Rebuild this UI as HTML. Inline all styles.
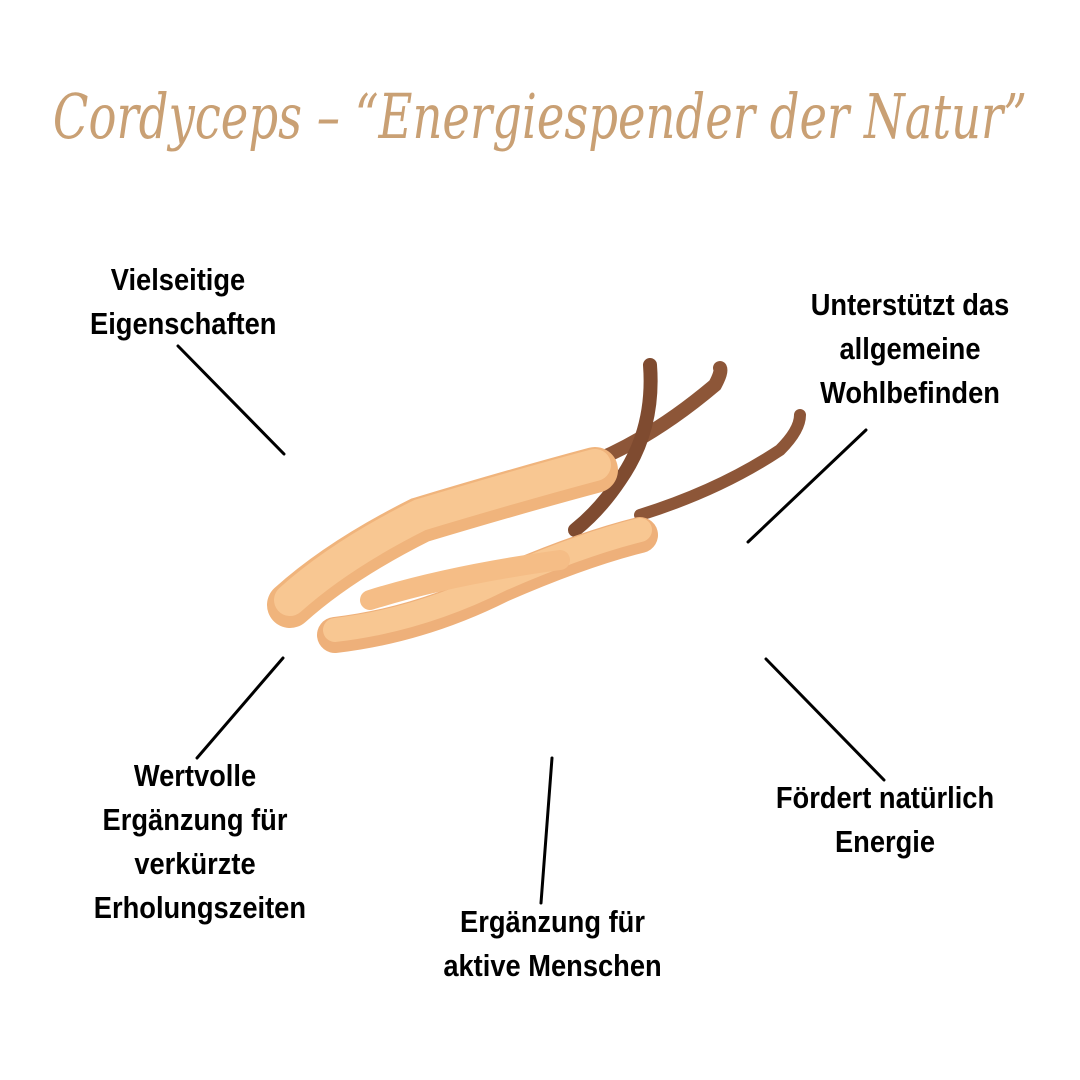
<!DOCTYPE html>
<html><head><meta charset="utf-8"><style>
body{margin:0;width:1080px;height:1080px;background:#fff;position:relative;overflow:hidden}
.t{position:absolute;left:-260px;width:1600px;top:80px;text-align:center;font-family:"DejaVu Serif","Liberation Serif",serif;font-style:italic;font-size:62px;color:#c9a074;white-space:nowrap;transform:scaleX(0.75);transform-origin:center}
.l{position:absolute;font-family:"Liberation Sans Narrow","Liberation Sans",sans-serif;font-weight:bold;font-size:31px;line-height:44px;color:#000;text-align:center;transform:scaleX(0.88);white-space:nowrap}
</style></head><body>
<div class="t">Cordyceps – “Energiespender der Natur”</div>
<svg width="1080" height="1080" style="position:absolute;left:0;top:0">
<g stroke="#000" stroke-width="3" stroke-linecap="round">
<line x1="178" y1="346" x2="284" y2="454"/>
<line x1="866" y1="430" x2="748" y2="542"/>
<line x1="283" y1="658" x2="197" y2="758"/>
<line x1="552" y1="758" x2="541" y2="903"/>
<line x1="766" y1="659" x2="884" y2="780"/>
</g>
<g stroke-linecap="round" fill="none">
<path d="M585 465 Q650 440 715 385 Q722 372 720 368" stroke="#8d5638" stroke-width="14"/>
<path d="M650 365 Q655 430 620 480 Q600 510 575 530" stroke="#7f4b30" stroke-width="14"/>
<path d="M640 515 Q720 490 780 450 Q800 430 800 415" stroke="#8d5638" stroke-width="12"/>
<path d="M290 605 Q340 560 420 520 Q520 490 595 470" stroke="#f0b47c" stroke-width="46"/>
<path d="M290 600 Q340 555 420 515 Q520 485 595 465" stroke="#f8c792" stroke-width="32"/>
<path d="M335 635 Q420 625 500 585 Q580 550 640 535" stroke="#eeb07a" stroke-width="36"/>
<path d="M335 630 Q420 620 500 580 Q580 545 640 530" stroke="#f8c792" stroke-width="24"/>
<path d="M370 600 Q450 575 560 560" stroke="#f5bd86" stroke-width="20"/>
</g>
</svg>
<div class="l" style="left:78px;top:258px;width:200px">Vielseitige<br>Eigenschaften</div>
<div class="l" style="left:790px;top:283px;width:240px">Unterstützt das<br>allgemeine<br>Wohlbefinden</div>
<div class="l" style="left:80px;top:754px;width:230px">Wertvolle<br>Ergänzung für<br>verkürzte<br>Erholungszeiten</div>
<div class="l" style="left:760px;top:776px;width:250px">Fördert natürlich<br>Energie</div>
<div class="l" style="left:420px;top:900px;width:265px">Ergänzung für<br>aktive Menschen</div>
</body></html>
